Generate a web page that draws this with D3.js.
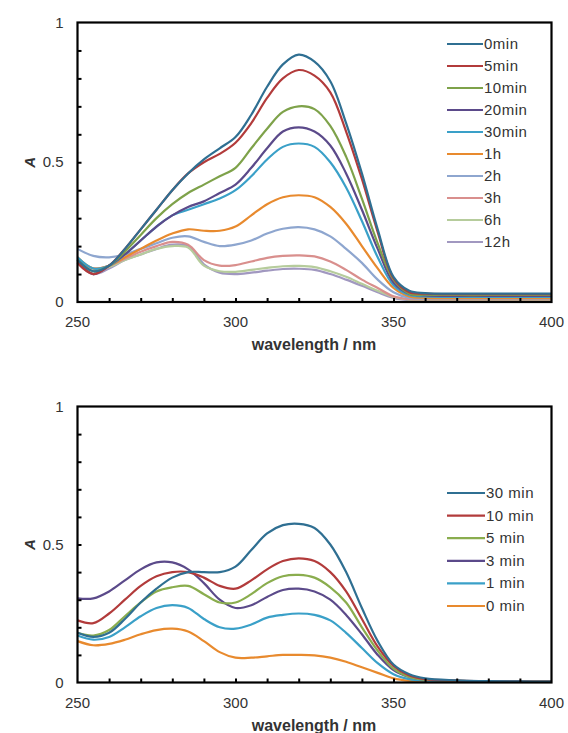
<!DOCTYPE html>
<html>
<head>
<meta charset="utf-8">
<script src="https://cdn.jsdelivr.net/npm/d3@7"></script>
<style>
  body { margin: 0; background: #fff; }
  svg text { font-family: "Liberation Sans", Arial, sans-serif; fill: #333; }
</style>
</head>
<body>
<div id="app"></div>
<script>
// wavelength grid (nm)
const wavelengths = [250,255,260,265,270,275,280,285,290,295,300,305,310,315,320,325,330,335,340,345,350,355,360,370,380,390,400]

// top panel series
const topLabels = ['0min','5min','10min','20min','30min','1h','2h','3h','6h','12h']
const top0min  = [0.15,0.11,0.13,0.19,0.26,0.33,0.40,0.46,0.51,0.55,0.59,0.67,0.77,0.85,0.885,0.86,0.79,0.64,0.46,0.26,0.09,0.04,0.032,0.03,0.03,0.03,0.03]
const top5min  = [0.14,0.10,0.13,0.19,0.26,0.33,0.40,0.46,0.50,0.53,0.57,0.64,0.73,0.80,0.83,0.81,0.75,0.61,0.44,0.25,0.085,0.035,0.03,0.028,0.028,0.028,0.028]
const top10min = [0.15,0.11,0.13,0.18,0.24,0.30,0.35,0.39,0.42,0.45,0.48,0.55,0.62,0.68,0.70,0.69,0.63,0.52,0.37,0.21,0.08,0.03,0.026,0.025,0.025,0.025,0.025]
const top20min = [0.15,0.10,0.13,0.17,0.22,0.27,0.31,0.34,0.36,0.39,0.42,0.48,0.55,0.61,0.625,0.61,0.56,0.46,0.33,0.19,0.07,0.03,0.024,0.022,0.022,0.022,0.022]
const top30min = [0.16,0.12,0.13,0.17,0.22,0.27,0.31,0.33,0.35,0.37,0.40,0.45,0.51,0.555,0.567,0.555,0.50,0.41,0.29,0.16,0.06,0.025,0.02,0.018,0.018,0.018,0.018]
const top1h    = [0.16,0.12,0.13,0.16,0.19,0.22,0.245,0.26,0.255,0.255,0.27,0.31,0.35,0.375,0.382,0.375,0.34,0.28,0.20,0.12,0.05,0.02,0.015,0.014,0.014,0.014,0.014]
const top2h    = [0.19,0.165,0.16,0.17,0.19,0.21,0.23,0.235,0.215,0.20,0.205,0.22,0.245,0.262,0.268,0.26,0.235,0.19,0.14,0.08,0.035,0.015,0.012,0.012,0.012,0.012,0.012]
const top3h    = [0.15,0.12,0.13,0.155,0.18,0.20,0.215,0.205,0.15,0.13,0.132,0.145,0.158,0.165,0.167,0.163,0.145,0.115,0.08,0.05,0.02,0.01,0.009,0.009,0.009,0.009,0.009]
const top6h    = [0.14,0.11,0.125,0.15,0.17,0.19,0.20,0.195,0.13,0.11,0.108,0.115,0.122,0.128,0.129,0.125,0.11,0.09,0.065,0.04,0.018,0.008,0.006,0.006,0.006,0.006,0.006]
const top12h   = [0.14,0.10,0.12,0.15,0.17,0.19,0.205,0.20,0.135,0.105,0.10,0.105,0.112,0.118,0.119,0.115,0.10,0.08,0.058,0.035,0.015,0.007,0.005,0.005,0.005,0.005,0.005]
const topColors = ['#2f6f92','#b23b3b','#7ea24a','#5b4a8a','#3aa0c8','#e88a2e','#8ea6cf','#d98f8d','#b6cc9c','#a198c0']

// bottom panel series
const bottomLabels = ['30 min','10 min','5 min','3 min','1 min','0 min']
const bot30min = [0.18,0.165,0.18,0.23,0.29,0.34,0.38,0.40,0.40,0.40,0.42,0.48,0.54,0.57,0.575,0.56,0.50,0.40,0.27,0.15,0.065,0.03,0.015,0.008,0.005,0.004,0.003]
const bot10min = [0.225,0.215,0.25,0.30,0.35,0.385,0.40,0.40,0.38,0.35,0.34,0.37,0.41,0.44,0.45,0.44,0.40,0.33,0.23,0.13,0.06,0.025,0.012,0.007,0.005,0.004,0.003]
const bot5min  = [0.18,0.17,0.19,0.24,0.29,0.33,0.345,0.35,0.32,0.29,0.29,0.32,0.36,0.385,0.39,0.38,0.345,0.29,0.20,0.115,0.05,0.02,0.01,0.006,0.004,0.003,0.003]
const bot3min  = [0.305,0.305,0.33,0.37,0.41,0.435,0.435,0.41,0.36,0.30,0.27,0.28,0.31,0.335,0.34,0.33,0.30,0.245,0.175,0.10,0.045,0.02,0.01,0.006,0.004,0.003,0.003]
const bot1min  = [0.17,0.155,0.165,0.20,0.24,0.27,0.28,0.27,0.23,0.20,0.195,0.21,0.235,0.245,0.25,0.245,0.225,0.18,0.125,0.07,0.03,0.012,0.007,0.004,0.003,0.003,0.002]
const bot0min  = [0.15,0.135,0.14,0.155,0.175,0.19,0.195,0.185,0.15,0.11,0.09,0.09,0.095,0.10,0.10,0.098,0.09,0.075,0.055,0.035,0.015,0.006,0.003,0.002,0.002,0.002,0.002]
const bottomColors = ['#2f6f92','#b23b3b','#8aad4e','#5b4a8a','#3aa0c8','#e88a2e']

const xTicks = [250, 300, 350, 400]
const yTicks = [0, 0.5, 1]

const width = 568, height = 733
const svg = d3.select('#app').append('svg')
    .attr('width', width)
    .attr('height', height)

function drawPanel (opts) {
  const x = d3.scaleLinear().domain([250, 400]).range([opts.left, opts.right])
  const y = d3.scaleLinear().domain([0, 1]).range([opts.bottom, opts.top])
  const g = svg.append('g')

  const line = d3.line()
      .x((d, i) => x(wavelengths[i]))
      .y(d => y(Math.max(0, d)))
      .curve(d3.curveCatmullRom.alpha(0.5))

  // curves: draw later series first so the first one sits on top
  g.selectAll('path.curve')
    .data(opts.series.map((s, i) => ({ s, c: opts.colors[i] })).reverse())
    .join('path')
      .attr('class', 'curve')
      .attr('d', d => line(d.s))
      .attr('fill', 'none')
      .attr('stroke', d => d.c)
      .attr('stroke-width', 2.2)

  // inward minor ticks
  const xAxis = d3.axisTop(x).tickValues(d3.range(260, 400, 10)).tickSize(4).tickFormat('')
  g.append('g').attr('transform', `translate(0,${opts.bottom})`).call(xAxis)
    .call(a => a.select('.domain').remove())
    .call(a => a.selectAll('line').attr('stroke', '#000').attr('stroke-width', 2))
  const yAxis = d3.axisRight(y).tickValues(d3.range(0.1, 1, 0.1)).tickSize(4).tickFormat('')
  g.append('g').attr('transform', `translate(${opts.left},0)`).call(yAxis)
    .call(a => a.select('.domain').remove())
    .call(a => a.selectAll('line').attr('stroke', '#000').attr('stroke-width', 2))

  // frame
  g.append('rect')
    .attr('x', opts.left).attr('y', opts.top)
    .attr('width', opts.right - opts.left).attr('height', opts.bottom - opts.top)
    .attr('fill', 'none').attr('stroke', '#000').attr('stroke-width', 2.2)

  // tick labels
  g.selectAll('text.xl').data(xTicks).join('text')
    .attr('class', 'xl')
    .attr('x', d => x(d)).attr('y', opts.bottom + 25)
    .attr('text-anchor', 'middle').attr('font-size', 15)
    .text(d => d)
  g.selectAll('text.yl').data(yTicks).join('text')
    .attr('class', 'yl')
    .attr('x', opts.left - 14).attr('y', d => y(d) + 5)
    .attr('text-anchor', 'end').attr('font-size', 15)
    .text(d => d)

  // axis titles
  g.append('text')
    .attr('x', 314).attr('y', opts.bottom + 48)
    .attr('text-anchor', 'middle').attr('font-size', 16).attr('font-weight', 'bold')
    .text('wavelength / nm')
  g.append('text')
    .attr('transform', `translate(${opts.left - 43},${y(0.5)}) rotate(-90)`)
    .attr('text-anchor', 'middle').attr('font-size', 15)
    .attr('font-style', 'italic').attr('font-weight', 'bold')
    .text('A')

  // legend
  const leg = g.selectAll('g.leg').data(opts.labels).join('g')
    .attr('class', 'leg')
    .attr('transform', (d, i) => `translate(${opts.legX},${opts.legY + i * opts.legStep})`)
  leg.append('line')
    .attr('x1', 0).attr('x2', opts.legLine)
    .attr('stroke', (d, i) => opts.colors[i]).attr('stroke-width', 2.2)
  leg.append('text')
    .attr('x', opts.legLine + 1).attr('y', 5)
    .attr('font-size', 15).attr('letter-spacing', 0.5)
    .text(d => d)
}

drawPanel({
  left: 77.5, right: 551.5, top: 22.5, bottom: 302,
  series: [top0min, top5min, top10min, top20min, top30min, top1h, top2h, top3h, top6h, top12h],
  colors: topColors, labels: topLabels,
  legX: 447, legY: 44, legStep: 22, legLine: 36
})

drawPanel({
  left: 77.5, right: 551.5, top: 406.5, bottom: 682.5,
  series: [bot30min, bot10min, bot5min, bot3min, bot1min, bot0min],
  colors: bottomColors, labels: bottomLabels,
  legX: 447, legY: 493, legStep: 22.6, legLine: 38
})
</script>
</body>
</html>
